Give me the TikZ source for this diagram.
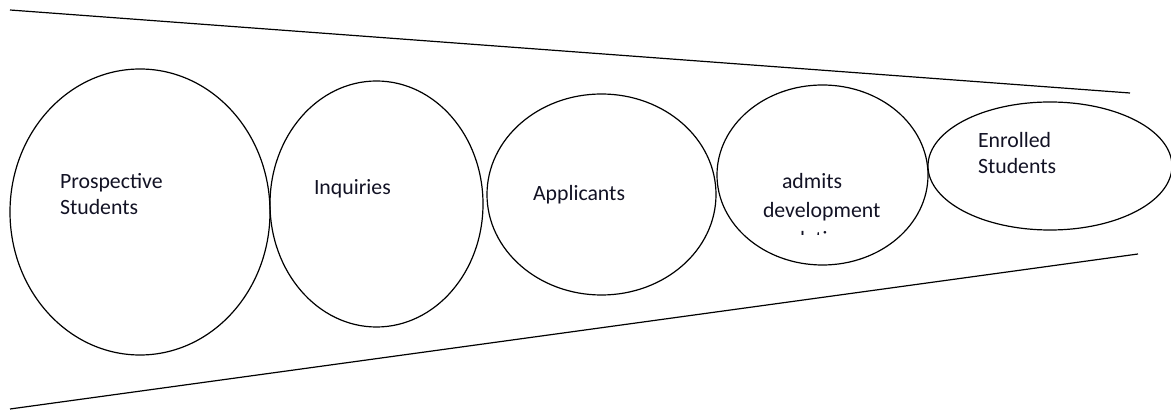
\documentclass[tikz,border=0pt]{standalone}
\usepackage{fontspec}
\setmainfont{Carlito}
\usetikzlibrary{shapes.geometric}
\definecolor{txt}{RGB}{18,18,36}
\tikzset{
  stage/.style={ellipse, draw=black, line width=1.2pt, inner sep=0pt, outer sep=0pt},
  lbl/.style={anchor=base west, inner sep=0pt, outer sep=0pt, text=txt, font=\fontsize{21.8}{25}\selectfont},
  funnel/.style={draw=black, line width=1.2pt}
}
\begin{document}
\begin{tikzpicture}[x=1pt, y=-1pt]
\useasboundingbox (0,0) rectangle (1171,411);
% funnel edges
\coordinate (ta) at (10,10);
\coordinate (tb) at (1130,93);
\coordinate (ba) at (10,409);
\coordinate (bb) at (1138,254);
\draw[funnel] (ta) -- (tb);
\draw[funnel] (ba) -- (bb);
% stages
\node[stage, minimum width=260pt, minimum height=286pt] (e1) at (140,212) {};
\node[stage, minimum width=213pt, minimum height=246pt] (e2) at (376.5,204) {};
\node[stage, minimum width=229pt, minimum height=201pt] (e3) at (601.5,194.5) {};
\node[stage, minimum width=211pt, minimum height=180pt] (e4) at (822.5,175) {};
\node[stage, minimum width=244pt, minimum height=128pt] (e5) at (1050,166) {};
% labels
\node[lbl] (l1a) at (60,189) {Prospective};
\node[lbl] (l1b) at (60,215) {Students};
\node[lbl] (l2) at (314,195) {Inquiries};
\node[lbl] (l3) at (533,201) {Applicants};
\node[lbl] (l4a) at (782,189) {admits};
\node[lbl] (l4b) at (763,218) {development};
\begin{scope}
\clip (740,220) rectangle (900,235);
\node[lbl] (l4c) at (782,247) {relations};
\end{scope}
\node[lbl] (l5a) at (978,148) {Enrolled};
\node[lbl] (l5b) at (978,174) {Students};
\end{tikzpicture}
\end{document}
